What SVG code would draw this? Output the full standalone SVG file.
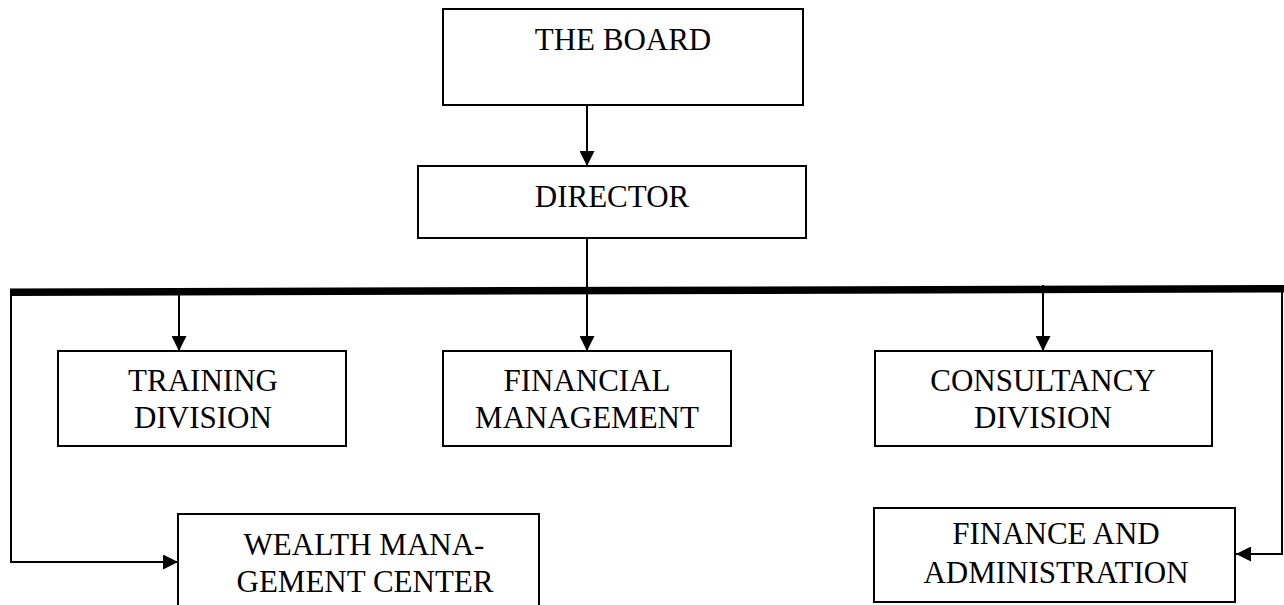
<svg xmlns="http://www.w3.org/2000/svg" width="1284" height="605" viewBox="0 0 1284 605">
  <style>
    .box { fill: #ffffff; stroke: #000000; stroke-width: 2; }
    .lbl { font-family: "Liberation Serif", "Times New Roman", serif; font-size: 31px; fill: #000000; text-anchor: middle; }
    .wire { fill: none; stroke: #000000; stroke-width: 2; }
    .bus { fill: none; stroke: #000000; stroke-width: 7.5; }
  </style>
  <defs>
    <marker id="arrow" markerWidth="15" markerHeight="15" refX="15" refY="7.5" orient="auto" markerUnits="userSpaceOnUse">
      <path d="M0,0 L15,7.5 L0,15 Z" fill="#000000"/>
    </marker>
  </defs>

  <rect width="1284" height="605" fill="#ffffff"/>

  <!-- connectors -->
  <g id="connectors">
    <line class="wire" x1="587" y1="105" x2="587" y2="166" marker-end="url(#arrow)"/>
    <line class="wire" x1="587" y1="238" x2="587" y2="291"/>
    <line class="bus" x1="10" y1="292.2" x2="1284" y2="288.8"/>
    <line class="wire" x1="179" y1="292" x2="179" y2="351" marker-end="url(#arrow)"/>
    <line class="wire" x1="587" y1="291" x2="587" y2="351" marker-end="url(#arrow)"/>
    <line class="wire" x1="1043" y1="285" x2="1043" y2="351" marker-end="url(#arrow)"/>
    <polyline class="wire" points="11,292 11,562 178,562" marker-end="url(#arrow)"/>
    <polyline class="wire" points="1282,289 1282,554 1236,554" marker-end="url(#arrow)"/>
  </g>

  <!-- nodes -->
  <g id="board">
    <rect class="box" x="443" y="9" width="360" height="96"/>
    <text class="lbl" x="623" y="50">THE BOARD</text>
  </g>
  <g id="director">
    <rect class="box" x="418" y="166" width="388" height="72"/>
    <text class="lbl" x="612" y="207">DIRECTOR</text>
  </g>
  <g id="training">
    <rect class="box" x="58" y="351" width="288" height="95"/>
    <text class="lbl" x="203" y="391">TRAINING</text>
    <text class="lbl" x="203" y="428">DIVISION</text>
  </g>
  <g id="financial-management">
    <rect class="box" x="443" y="351" width="288" height="95"/>
    <text class="lbl" x="587" y="391">FINANCIAL</text>
    <text class="lbl" x="587" y="428">MANAGEMENT</text>
  </g>
  <g id="consultancy">
    <rect class="box" x="875" y="351" width="337" height="95"/>
    <text class="lbl" x="1043" y="391">CONSULTANCY</text>
    <text class="lbl" x="1043" y="428">DIVISION</text>
  </g>
  <g id="wealth-management">
    <rect class="box" x="178" y="514" width="361" height="100"/>
    <text class="lbl" x="364" y="555">WEALTH MANA-</text>
    <text class="lbl" x="365" y="592">GEMENT CENTER</text>
  </g>
  <g id="finance-administration">
    <rect class="box" x="874" y="508" width="361" height="94"/>
    <text class="lbl" x="1056" y="544">FINANCE AND</text>
    <text class="lbl" x="1056" y="583">ADMINISTRATION</text>
  </g>
</svg>
